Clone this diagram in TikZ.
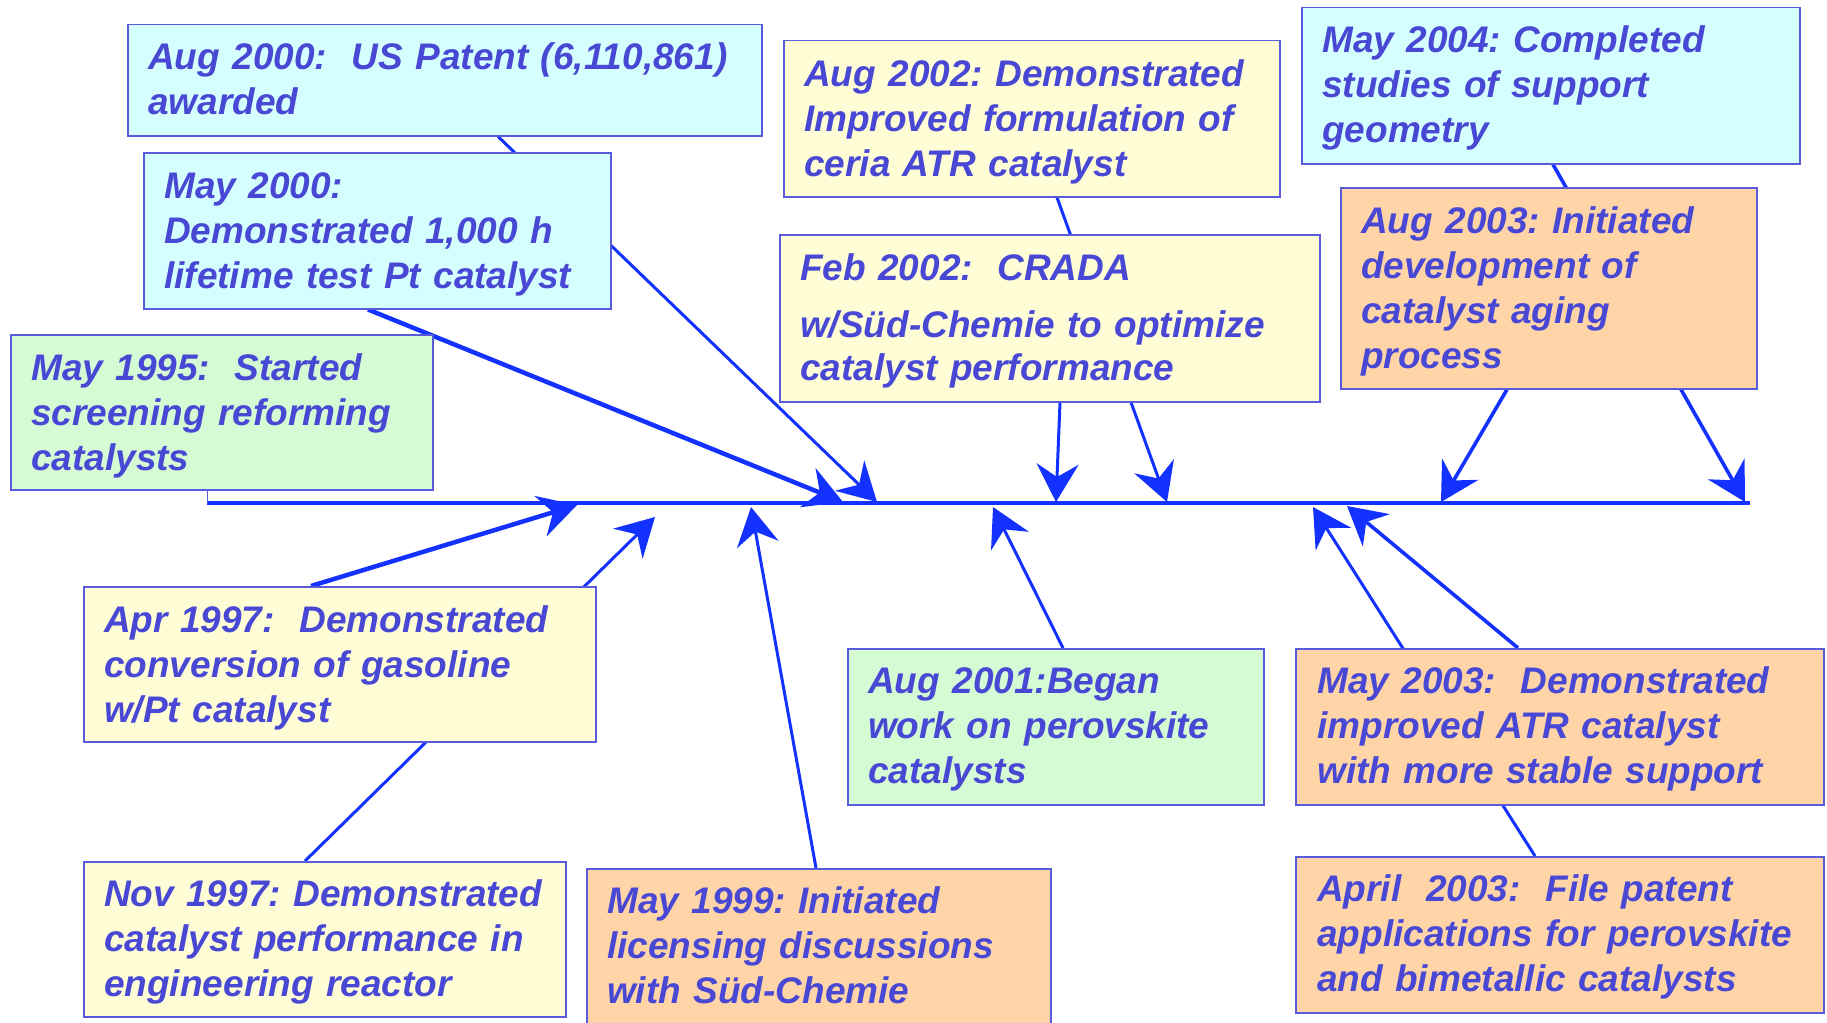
\documentclass[tikz,border=0pt]{standalone}
\usepackage{fontspec}
\setmainfont{Liberation Sans}
\usetikzlibrary{arrows.meta,backgrounds}
\definecolor{lnblue}{HTML}{1432FF}
\definecolor{bdblue}{HTML}{5A5ADC}
\definecolor{txblue}{HTML}{4848D4}
\definecolor{fcyan}{HTML}{D5FFFF}
\definecolor{fgreen}{HTML}{D5FBD5}
\definecolor{fyellow}{HTML}{FFFDD6}
\definecolor{forange}{HTML}{FFD5A8}
\frenchspacing
\begin{document}
\begin{tikzpicture}[x=1pt,y=-1pt,
  box/.style={draw=bdblue, line width=1.5pt, inner sep=0pt, anchor=north west},
  txt/.style={anchor=base west, inner sep=0pt, text width=760pt, align=left,
    text=txblue, font=\fontsize{37}{45}\selectfont\bfseries\itshape\frenchspacing},
  conn/.style={draw=lnblue, line width=3pt, -{Stealth[length=38pt,width=42pt,inset=13pt]}},
  thick conn/.style={conn, line width=4.5pt},
  mid conn/.style={conn, line width=3.6pt},
  mainline/.style={draw=lnblue, line width=4.8pt},
  tick/.style={draw=bdblue, line width=1pt}]
\useasboundingbox (0,0) rectangle (1827,1022);

% boxes
\node[box, fill=fcyan, minimum width=634pt, minimum height=111pt] (A) at (127,24) {};
\node[box, fill=fcyan, minimum width=467pt, minimum height=156pt] (B) at (143,152) {};
\node[box, fill=fgreen, minimum width=422pt, minimum height=155pt] (C) at (10,334) {};
\node[box, fill=fyellow, minimum width=496pt, minimum height=156pt] (D) at (783,40) {};
\node[box, fill=fyellow, minimum width=540pt, minimum height=167pt] (E) at (779,234) {};
\node[box, fill=fcyan, minimum width=498pt, minimum height=156pt] (F) at (1301,7) {};
\node[box, fill=forange, minimum width=416pt, minimum height=201pt] (G) at (1340,187) {};
\node[box, fill=fyellow, minimum width=512pt, minimum height=155pt] (H) at (83,586) {};
\node[box, fill=fyellow, minimum width=482pt, minimum height=155pt] (I) at (83,861) {};
\node[box, fill=forange, minimum width=464pt, minimum height=180pt] (J) at (586,868) {};
\node[box, fill=fgreen, minimum width=416pt, minimum height=156pt] (K) at (847,648) {};
\node[box, fill=forange, minimum width=528pt, minimum height=156pt] (L) at (1295,648) {};
\node[box, fill=forange, minimum width=528pt, minimum height=156pt] (M) at (1295,856) {};

% texts
\node[txt] (At) at (148,70) {Aug 2000:\ \ US Patent (6,110,861)\\awarded};
\node[txt] (Bt) at (164,198) {May 2000:\\Demonstrated 1,000 h\\lifetime test Pt catalyst};
\node[txt] (Ct) at (31,380) {May 1995:\ \ Started\\screening reforming\\catalysts};
\node[txt] (Dt) at (804,87) {Aug 2002: Demonstrated\\Improved formulation of\\ceria ATR catalyst};
\node[txt] (Et) at (800,280) {Feb 2002:\ \ CRADA\\[12pt]w/Süd-Chemie to optimize\\[-2pt]catalyst performance};
\node[txt] (Ft) at (1322,53) {May 2004: Completed\\studies of support\\geometry};
\node[txt] (Gt) at (1361,233) {Aug 2003: Initiated\\development of\\catalyst aging\\process};
\node[txt] (Ht) at (104,632) {Apr 1997:\ \ Demonstrated\\conversion of gasoline\\w/Pt catalyst};
\node[txt] (It) at (104,906) {Nov 1997: Demonstrated\\catalyst performance in\\engineering reactor};
\node[txt] (Jt) at (607,913) {May 1999: Initiated\\licensing discussions\\with Süd-Chemie};
\node[txt] (Kt) at (868,693) {Aug 2001:Began\\work on perovskite\\catalysts};
\node[txt] (Lt) at (1317,693) {May 2003:\ \ Demonstrated\\improved ATR catalyst\\with more stable support};
\node[txt] (Mt) at (1317,901) {April\ \ 2003:\ \ File patent\\applications for perovskite\\and bimetallic catalysts};

% main line and tips
\coordinate (ms) at (207,503);
\coordinate (me) at (1750,503);
\coordinate (tA) at (877,502);
\coordinate (tB) at (843,502);
\coordinate (tD) at (1167,502);
\coordinate (tE) at (1056,502);
\coordinate (tF) at (1745,502);
\coordinate (tG) at (1441,502);
\coordinate (tH) at (577,505);
\coordinate (tI) at (655,517);
\coordinate (tJ) at (751,507);
\coordinate (tK) at (993,507);
\coordinate (tL) at (1347,506);
\coordinate (tM) at (1313,507);

\begin{scope}[on background layer]
  \draw[mainline] (ms) -- (me);
  \draw[tick] ([xshift=197pt]C.south west) -- (ms);
  \draw[conn] ([xshift=371pt]A.south west) -- (tA);
  \draw[thick conn] ([xshift=225pt]B.south west) -- (tB);
  \draw[conn] ([xshift=274pt]D.south west) -- (tD);
  \draw[conn] ([xshift=281pt]E.south west) -- (tE);
  \draw[mid conn] ([xshift=252pt]F.south west) -- (tF);
  \draw[mid conn] ([xshift=167pt]G.south west) -- (tG);
  \draw[thick conn] ([xshift=228pt]H.north west) -- (tH);
  \draw[conn] ([xshift=222pt]I.north west) -- (tI);
  \draw[conn] ([xshift=230pt]J.north west) -- (tJ);
  \draw[conn] ([xshift=216pt]K.north west) -- (tK);
  \draw[mid conn] ([xshift=223pt]L.north west) -- (tL);
  \draw[conn] ([xshift=240pt]M.north west) -- (tM);
\end{scope}
\end{tikzpicture}
\end{document}
